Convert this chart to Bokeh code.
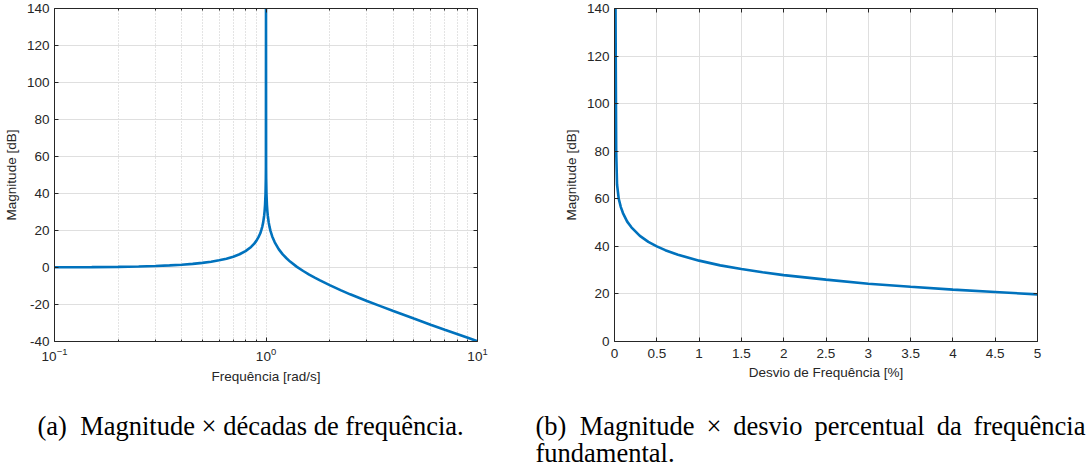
from bokeh.plotting import figure
from bokeh.models import (Range1d, FixedTicker, LinearAxis, Label, SingleIntervalTicker)
from bokeh.layouts import row, column
from bokeh.embed import file_html
from bokeh.resources import INLINE

# ---- data ----
freq_rad_s = [0.1, 0.15, 0.2, 0.25, 0.3, 0.35, 0.4, 0.45, 0.5, 0.55, 0.6, 0.65, 0.7, 0.75,
              0.8, 0.85, 0.88, 0.9, 0.92, 0.94, 0.95, 0.96, 0.97, 0.98, 0.985, 0.99, 0.995,
              0.998, 0.999, 1.0, 1.001, 1.002, 1.005, 1.01, 1.015, 1.02, 1.03, 1.04, 1.05,
              1.07, 1.1, 1.15, 1.2, 1.25, 1.3, 1.4, 1.5, 1.6, 1.7, 1.8, 2.0, 2.25, 2.5, 3.0,
              3.5, 4.0, 5.0, 6.0, 7.0, 8.0, 9.0, 10.0]
mag_a_db = [0.1, 0.2, 0.35, 0.56, 0.82, 1.15, 1.51, 1.94, 2.5, 3.1, 3.88, 4.78, 5.85, 7.17,
            8.87, 11.1, 12.9, 14.4, 16.3, 18.5, 20.2, 22.0, 24.4, 28.0, 30.5, 34.0, 40.0,
            48.0, 54.0, 140.0, 54.0, 48.0, 40.0, 33.9, 30.4, 27.9, 24.3, 21.8, 19.8,
            16.8, 13.6, 9.8, 7.1, 5.0, 3.2, 0.35, -1.9, -3.9, -5.5, -7.0, -9.5, -12.2, -14.5,
            -18.1, -21.0, -23.5, -27.6, -30.9, -33.6, -35.9, -38.0, -39.9]

desvio_pct = [0.012, 0.02, 0.03, 0.05, 0.075, 0.1, 0.15, 0.2, 0.3, 0.4,
              0.5, 0.6, 0.75, 1.0, 1.25, 1.5, 1.75, 2.0, 2.5, 3.0, 3.5, 4.0, 4.5, 5.0]
mag_b_db = [140.0, 80.0, 66.0, 60.0, 56.5, 54.0, 50.4, 48.0, 44.4, 41.9,
            40.0, 38.4, 36.5, 34.0, 32.0, 30.5, 29.1, 27.9, 26.0, 24.3, 23.0, 21.8, 20.8, 19.8]

x_major_a = [0.1, 1, 10]
x_minor_a = [0.2, 0.3, 0.4, 0.5, 0.6, 0.7, 0.8, 0.9, 2, 3, 4, 5, 6, 7, 8, 9]

SP = " \u2009"  # justified inter-word space
caption_a = "(a)\u2002Magnitude \u00d7 décadas de frequência."
caption_b1 = "(b)\u2002" + SP.join(["Magnitude", "\u00d7", "desvio", "percentual", "da",
                                   "frequência"])
caption_b2 = "fundamental."

# ---- style ----
LINE = "#0072BD"
AX = "#262626"
GRID = "#dfdfdf"
MINOR = "#c8c8c8"
SANS = "Liberation Sans"
SERIF = "Liberation Serif"
TICK_FS = "13.5px"
LAB_FS = "13.5px"
CAP_FS = "26.5px"
TOP_H = 390
CAP_H = 466 - TOP_H


def style_axis(ax, label=None, standoff=5, label_standoff=4):
    ax.axis_line_color = AX
    ax.axis_line_width = 1
    ax.major_tick_line_color = AX
    ax.minor_tick_line_color = AX
    ax.major_tick_in = 4
    ax.major_tick_out = 0
    ax.minor_tick_in = 0
    ax.minor_tick_out = 0
    ax.major_label_text_font = SANS
    ax.major_label_text_font_size = TICK_FS
    ax.major_label_text_color = AX
    ax.major_label_standoff = standoff
    if label is not None:
        ax.axis_label = label
        ax.axis_label_text_font = SANS
        ax.axis_label_text_font_size = LAB_FS
        ax.axis_label_text_font_style = "normal"
        ax.axis_label_text_color = AX
        ax.axis_label_standoff = label_standoff


def blank_axis(ax):
    ax.axis_line_color = AX
    ax.major_tick_line_color = AX
    ax.minor_tick_line_color = AX
    ax.major_tick_in = 4
    ax.major_tick_out = 0
    ax.minor_tick_in = 0
    ax.minor_tick_out = 0
    ax.major_label_text_font_size = "1px"
    ax.major_label_text_alpha = 0
    ax.major_label_standoff = 0


# ---- panel (a) ----
pa = figure(width=530, height=TOP_H, x_axis_type="log", output_backend="svg",
            toolbar_location=None, min_border_left=54, min_border_right=53,
            min_border_top=8, min_border_bottom=TOP_H - 341,
            x_range=Range1d(0.1, 10), y_range=Range1d(-40, 140))
pa.outline_line_color = None
pa.background_fill_color = "white"
pa.border_fill_color = "white"

tick_a = FixedTicker(ticks=x_major_a, minor_ticks=x_minor_a)
pa.xaxis.ticker = tick_a
pa.yaxis.ticker = SingleIntervalTicker(interval=20, num_minor_ticks=0)
style_axis(pa.xaxis[0], "Frequência [rad/s]", standoff=6, label_standoff=5)
pa.xaxis[0].minor_tick_in = 2
style_axis(pa.yaxis[0], "Magnitude [dB]", standoff=5, label_standoff=5)
pa.yaxis[0].major_label_overrides = {-20: "-20", -40: "-40"}

pa.xgrid.ticker = tick_a
pa.xgrid.grid_line_color = MINOR
pa.xgrid.grid_line_dash = "1 2"
pa.xgrid.minor_grid_line_color = MINOR
pa.xgrid.minor_grid_line_dash = "1 2"
pa.ygrid.grid_line_color = GRID
pa.ygrid.grid_line_width = 1

top_a = LinearAxis(ticker=tick_a)
blank_axis(top_a)
top_a.minor_tick_in = 2
pa.add_layout(top_a, "above")
right_a = LinearAxis(ticker=SingleIntervalTicker(interval=20, num_minor_ticks=0))
blank_axis(right_a)
pa.add_layout(right_a, "right")

pa.line(freq_rad_s, mag_a_db, line_color=LINE, line_width=2.6)

# ---- panel (b) ----
pb = figure(width=562, height=TOP_H, output_backend="svg",
            toolbar_location=None, min_border_left=84, min_border_right=55,
            min_border_top=8, min_border_bottom=TOP_H - 341,
            x_range=Range1d(0, 5), y_range=Range1d(0, 140))
pb.outline_line_color = None
pb.background_fill_color = "white"
pb.border_fill_color = "white"

tick_bx = SingleIntervalTicker(interval=0.5, num_minor_ticks=0)
tick_by = SingleIntervalTicker(interval=20, num_minor_ticks=0)
pb.xaxis.ticker = tick_bx
pb.yaxis.ticker = tick_by
style_axis(pb.xaxis[0], "Desvio de Frequência [%]", standoff=7, label_standoff=4)
style_axis(pb.yaxis[0], "Magnitude [dB]", standoff=5, label_standoff=5)
pb.xgrid.ticker = tick_bx
pb.ygrid.ticker = tick_by
pb.xgrid.grid_line_color = GRID
pb.ygrid.grid_line_color = GRID

top_b = LinearAxis(ticker=tick_bx)
blank_axis(top_b)
pb.add_layout(top_b, "above")
right_b = LinearAxis(ticker=tick_by)
blank_axis(right_b)
pb.add_layout(right_b, "right")

pb.line(desvio_pct, mag_b_db, line_color=LINE, line_width=2.6)

# ---- captions strip ----
cf = figure(width=1092, height=CAP_H, output_backend="svg", toolbar_location=None,
            min_border=0, x_range=Range1d(0, 1092), y_range=Range1d(0, CAP_H))
cf.axis.visible = False
cf.grid.visible = False
cf.outline_line_color = None
cf.border_fill_color = "white"
cf.background_fill_color = "white"

for txt, x, y in [(caption_a, 37, 466 - 425), (caption_b1, 535, 466 - 425),
                  (caption_b2, 535, 466 - 452)]:
    cf.add_layout(Label(x=x, y=y, x_units="screen", y_units="screen", text=txt,
                        text_font=SERIF, text_font_size=CAP_FS, text_color="black",
                        text_baseline="alphabetic", text_align="left"))

layout = column(row(pa, pb, spacing=0), cf, spacing=0)
open("out.html", "w").write(file_html(layout, INLINE))
